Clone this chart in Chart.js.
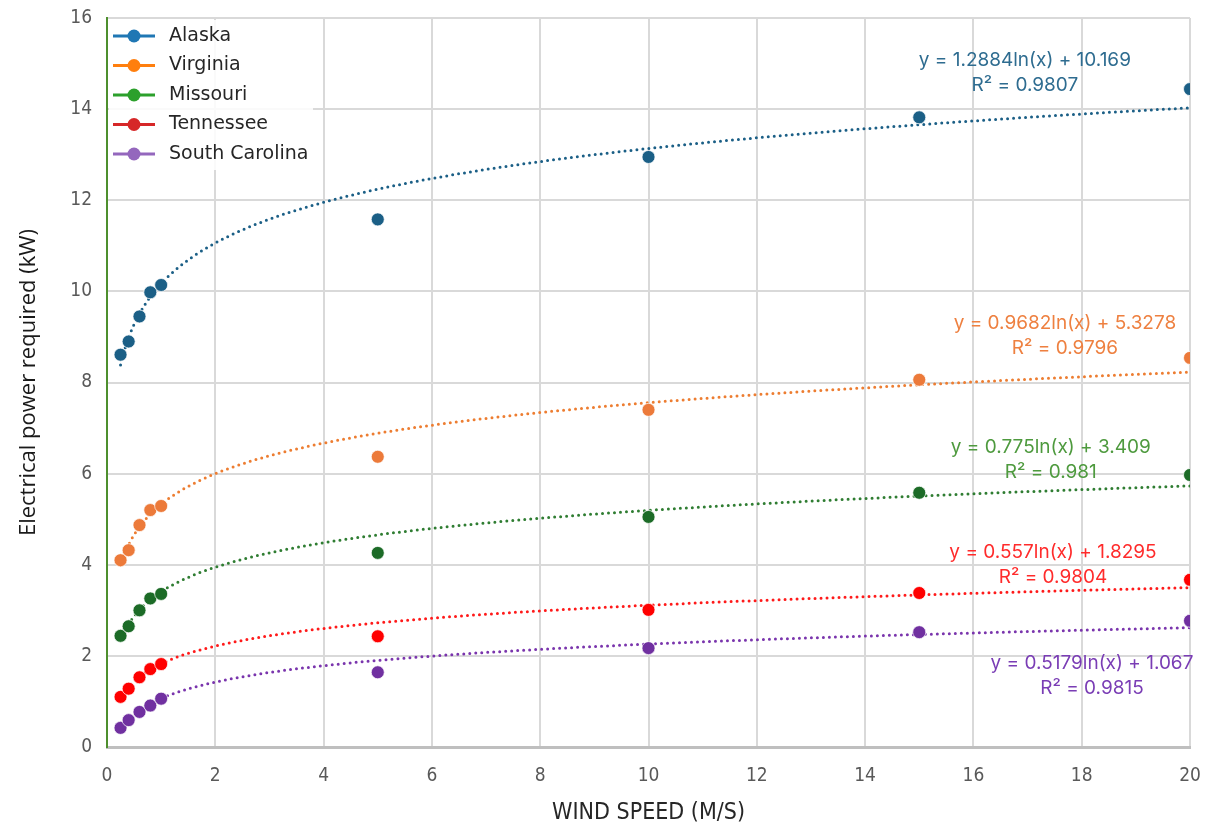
<!DOCTYPE html>
<html>
<head>
<meta charset="utf-8">
<script src="https://cdn.jsdelivr.net/npm/chart.js@4.4.1/dist/chart.umd.min.js"></script>
<style>
  html, body { margin: 0; padding: 0; background: #fff; }
  #wrap { width: 1208px; height: 829px; }
</style>
</head>
<body>
<div id="wrap"><canvas id="chart"></canvas></div>
<script>
// Wind speed (m/s) at which power was measured
const windSpeed = [0.25, 0.4, 0.6, 0.8, 1, 5, 10, 15, 20];
const states = ["Alaska", "Virginia", "Missouri", "Tennessee", "South Carolina"];

// Electrical power required (kW)
const alaska        = [8.61, 8.90, 9.45, 9.98, 10.14, 11.58, 12.95, 13.82, 14.44];
const virginia      = [4.10, 4.32, 4.87, 5.20, 5.29, 6.37, 7.40, 8.06, 8.54];
const missouri      = [2.44, 2.65, 3.00, 3.26, 3.36, 4.26, 5.05, 5.58, 5.97];
const tennessee     = [1.10, 1.28, 1.53, 1.71, 1.82, 2.43, 3.01, 3.38, 3.67];
const southCarolina = [0.42, 0.59, 0.77, 0.91, 1.06, 1.64, 2.17, 2.52, 2.77];

// Logarithmic trendlines: y = a ln(x) + b
const trendSlope     = [1.2884, 0.9682, 0.775, 0.557, 0.5179];
const trendIntercept = [10.169, 5.3278, 3.409, 1.8295, 1.067];
const rSquared       = ["0.9807", "0.9796", "0.981", "0.9804", "0.9815"];

const xTicks = { min: 0, max: 20, step: 2 };
const yTicks = { min: 0, max: 16, step: 2 };

const seriesValues = [alaska, virginia, missouri, tennessee, southCarolina];

// colours
const pointColors  = ["#1b5f86", "#ec7a3a", "#1c6b27", "#ff0000", "#7030a0"];
const trendColors  = ["#1b5f86", "#ed7d31", "#2f7d32", "#ff1a1a", "#7a35ad"];
const labelColors  = ["#2e6c90", "#ee8040", "#4e9a3e", "#ff2b2b", "#7a3db5"];
const legendColors = ["#1f77b4", "#ff7f0e", "#2ca02c", "#d62728", "#9467bd"];

// where each equation label sits (data units, centre of first line)
const eqPosX = [16.95, 17.69, 17.43, 17.47, 18.19];
const eqPosY = [15.08, 9.31, 6.58, 4.28, 1.84];

// sample the fitted curve from the first to the last wind speed
function trendPoints(i) {
  const x0 = windSpeed[0], x1 = windSpeed[windSpeed.length - 1];
  const pts = [];
  for (let k = 0; k <= 160; k++) {
    const x = x0 * Math.pow(x1 / x0, k / 160);
    pts.push({ x, y: trendSlope[i] * Math.log(x) + trendIntercept[i] });
  }
  return pts;
}

const datasets = [];
states.forEach((name, i) => {
  datasets.push({
    label: name,
    data: windSpeed.map((x, j) => ({ x, y: seriesValues[i][j] })),
    pointRadius: 6.5,
    pointHoverRadius: 6.5,
    pointBackgroundColor: pointColors[i],
    pointBorderColor: "rgba(255,255,255,0.7)",
    pointBorderWidth: 1,
    showLine: false,
    order: 0
  });
  datasets.push({
    label: name + " trend",
    data: trendPoints(i),
    showLine: true,
    pointRadius: 0,
    borderColor: trendColors[i],
    borderWidth: 3,
    borderDash: [0, 6],
    borderCapStyle: "round",
    tension: 0,
    order: 1
  });
});

// equation + R² text next to each trendline
const equationLabels = {
  id: "equationLabels",
  afterDatasetsDraw(chart) {
    const { ctx, scales } = chart;
    ctx.save();
    ctx.font = "19px Inter";
    ctx.textAlign = "center";
    ctx.textBaseline = "middle";
    states.forEach((name, i) => {
      const px = scales.x.getPixelForValue(eqPosX[i]);
      const py = scales.y.getPixelForValue(eqPosY[i]);
      ctx.fillStyle = labelColors[i];
      ctx.fillText(`y = ${trendSlope[i]}ln(x) + ${trendIntercept[i]}`, px, py);
      ctx.fillText(`R² = ${rSquared[i]}`, px, py + 25);
    });
    ctx.restore();
  }
};

// legend box in the upper left corner of the plot
const stateLegend = {
  id: "stateLegend",
  afterDraw(chart) {
    const { ctx, chartArea } = chart;
    const left = chartArea.left, top = chartArea.top;
    ctx.save();
    ctx.fillStyle = "rgba(255,255,255,0.85)";
    ctx.fillRect(left + 2, top + 2, 204, 150);
    ctx.font = "19px 'DejaVu Sans'";
    ctx.textBaseline = "middle";
    states.forEach((name, i) => {
      const y = top + 18 + i * 29.5;
      ctx.strokeStyle = legendColors[i];
      ctx.lineWidth = 3;
      ctx.beginPath();
      ctx.moveTo(left + 6, y);
      ctx.lineTo(left + 48, y);
      ctx.stroke();
      ctx.fillStyle = legendColors[i];
      ctx.beginPath();
      ctx.arc(left + 27, y, 6.5, 0, Math.PI * 2);
      ctx.fill();
      ctx.fillStyle = "#262626";
      ctx.fillText(name, left + 62, y);
    });
    ctx.restore();
  }
};

const narrowFamily = "'Liberation Sans Narrow', 'DejaVu Sans Condensed', sans-serif";
const tickFont = { family: narrowFamily, size: 19 };

new Chart(document.getElementById("chart"), {
  type: "scatter",
  data: { datasets },
  plugins: [equationLabels, stateLegend],
  options: {
    responsive: true,
    maintainAspectRatio: false,
    animation: false,
    layout: { padding: { top: 18, right: 18, left: 0, bottom: 0 } },
    plugins: {
      legend: { display: false },
      tooltip: { enabled: false }
    },
    scales: {
      x: {
        type: "linear",
        min: xTicks.min,
        max: xTicks.max,
        ticks: { stepSize: xTicks.step, color: "#595959", font: tickFont, padding: 18 },
        grid: { color: "#d9d9d9", lineWidth: 2, drawTicks: false },
        border: { color: "#bfbfbf", width: 3 },
        title: {
          display: true,
          text: "WIND SPEED (M/S)",
          color: "#262626",
          font: { family: narrowFamily, size: 23 },
          padding: { top: 0, bottom: 2 }
        },
        afterFit(scale) {
          scale.height = 82;
          scale.paddingLeft = 0;
          scale.paddingRight = 0;
        }
      },
      y: {
        type: "linear",
        min: yTicks.min,
        max: yTicks.max,
        ticks: { stepSize: yTicks.step, color: "#595959", font: tickFont, padding: 15 },
        grid: { color: "#d9d9d9", lineWidth: 2, drawTicks: false },
        border: { color: "#4e8f2e", width: 2 },
        title: {
          display: true,
          text: "Electrical power required (kW)",
          color: "#1a1a1a",
          font: { family: "'Open Sans'", size: 22 },
          padding: { top: 16, bottom: 0 }
        },
        afterFit(scale) {
          scale.width = 107;
          scale.paddingTop = 0;
          scale.paddingBottom = 0;
        }
      }
    }
  }
});
</script>
</body>
</html>
